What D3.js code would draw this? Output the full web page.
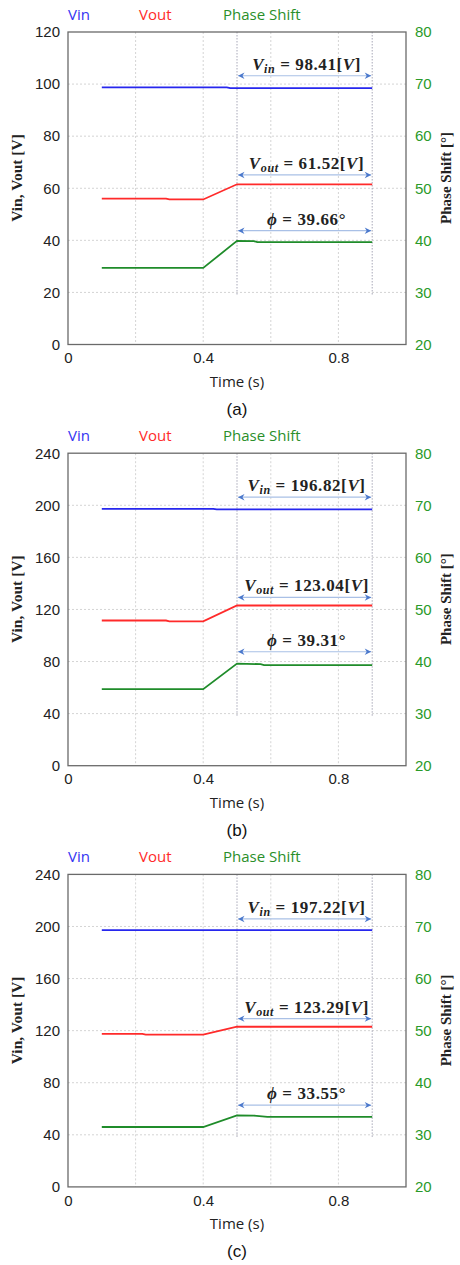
<!DOCTYPE html>
<html>
<head>
<meta charset="utf-8">
<script src="https://cdn.jsdelivr.net/npm/d3@7"></script>
<style>
  body { margin: 0; background: #fff; }
</style>
</head>
<body>
<div id="chart"></div>
<script>
// chart data
var legendNames = ["Vin", "Vout", "Phase Shift"];
var panelTags = ["(a)", "(b)", "(c)"];
var leftMax = [120, 240, 240];
var leftStep = [20, 40, 40];
var rightTicks = [20, 30, 40, 50, 60, 70, 80];
var timeTicks = [0, 0.4, 0.8];
var timeGrid = [0.2, 0.4, 0.6, 0.8];
var markTimes = [0.5, 0.9];

// [time, value] pairs
var vinA = [[0.1, 98.7], [0.47, 98.7], [0.48, 98.41], [0.9, 98.41]];
var vinB = [[0.1, 197.3], [0.43, 197.3], [0.44, 196.82], [0.9, 196.82]];
var vinC = [[0.1, 197.22], [0.9, 197.22]];

var voutA = [[0.1, 56.0], [0.29, 56.0], [0.3, 55.7], [0.4, 55.7], [0.5, 61.52], [0.9, 61.52]];
var voutB = [[0.1, 111.5], [0.29, 111.5], [0.3, 110.9], [0.4, 110.9], [0.5, 123.04], [0.9, 123.04]];
var voutC = [[0.1, 117.6], [0.22, 117.6], [0.23, 116.9], [0.4, 116.9], [0.5, 123.0], [0.9, 123.0]];

var phaseA = [[0.1, 34.7], [0.4, 34.7], [0.5, 39.9], [0.55, 39.85], [0.56, 39.66], [0.9, 39.66]];
var phaseB = [[0.1, 34.7], [0.4, 34.7], [0.5, 39.6], [0.57, 39.5], [0.58, 39.31], [0.9, 39.31]];
var phaseC = [[0.1, 31.5], [0.4, 31.5], [0.5, 33.75], [0.55, 33.7], [0.59, 33.45], [0.9, 33.45]];

var vinLabels = ["98.41", "196.82", "197.22"];
var voutLabels = ["61.52", "123.04", "123.29"];
var phaseLabels = ["39.66", "39.31", "33.55"];

// heights of the measurement arrows, in left-axis units
var vinArrow = [103.2, 206.2, 205.8];
var voutArrow = [65.1, 129.2, 129.2];
var phaseArrow = [43.7, 87.5, 62.8];

var vinSeries = [vinA, vinB, vinC];
var voutSeries = [voutA, voutB, voutC];
var phaseSeries = [phaseA, phaseB, phaseC];

// svg container
var svgWidth = 460;
var svgHeight = 1265;
var plotLeft = 68;
var plotWidth = 338;
var plotHeight = 312.5;
var panelGap = 421.2;

var colors = { vin: "#2727ee", vout: "#ff2a2a", phase: "#1f8c2a" };
var legendColors = ["#3434f2", "#ff2a2a", "#2a8f2a"];

var svg = d3.select("#chart")
  .append("svg")
  .attr("width", svgWidth)
  .attr("height", svgHeight);

// arrow heads
var defs = svg.append("defs");
defs.append("marker")
  .attr("id", "chev")
  .attr("viewBox", "0 0 8 8")
  .attr("refX", 7.5)
  .attr("refY", 4)
  .attr("markerWidth", 8)
  .attr("markerHeight", 8)
  .attr("markerUnits", "userSpaceOnUse")
  .attr("orient", "auto-start-reverse")
  .append("path")
  .attr("d", "M1,0.8 L7.5,4 L1,7.2 L3,4 Z")
  .attr("fill", "#4a78cc");

panelTags.forEach(function(tag, i) {
  var top = 32 + i * panelGap;
  var g = svg.append("g").attr("transform", `translate(${plotLeft}, ${top})`);

  var x = d3.scaleLinear().domain([0, 1]).range([0, plotWidth]);
  var yL = d3.scaleLinear().domain([0, leftMax[i]]).range([plotHeight, 0]);
  var yR = d3.scaleLinear().domain([20, 80]).range([plotHeight, 0]);
  var leftTicks = d3.range(0, leftMax[i] + 1, leftStep[i]);

  // grid
  g.selectAll(".hgrid")
    .data(leftTicks.slice(1, -1))
    .enter().append("line")
    .attr("x1", 0).attr("x2", plotWidth)
    .attr("y1", d => yL(d)).attr("y2", d => yL(d))
    .attr("stroke", "#d4d4d4")
    .attr("stroke-dasharray", "2,2");

  g.selectAll(".vgrid")
    .data(timeGrid)
    .enter().append("line")
    .attr("x1", d => x(d)).attr("x2", d => x(d))
    .attr("y1", 0).attr("y2", plotHeight)
    .attr("stroke", "#d4d4d4")
    .attr("stroke-dasharray", "2,2");

  // reference lines for the measurement window
  g.selectAll(".mark")
    .data(markTimes)
    .enter().append("line")
    .attr("x1", d => x(d)).attr("x2", d => x(d))
    .attr("y1", 0).attr("y2", yL(leftTicks[1]) + 3)
    .attr("stroke", "#a8a8b8")
    .attr("stroke-dasharray", "1.5,1.5");

  // axes
  var leftAxis = d3.axisLeft(yL).tickValues(leftTicks).tickSize(0).tickPadding(8);
  var rightAxis = d3.axisRight(yR).tickValues(rightTicks).tickSize(0).tickPadding(9);
  var bottomAxis = d3.axisBottom(x).tickValues(timeTicks).tickSize(0).tickPadding(8)
    .tickFormat(d => d === 0 ? "0" : d3.format(".1f")(d));

  var la = g.append("g").call(leftAxis);
  var ra = g.append("g").attr("transform", `translate(${plotWidth}, 0)`).call(rightAxis);
  var ba = g.append("g").attr("transform", `translate(0, ${plotHeight})`).call(bottomAxis);
  [la, ra, ba].forEach(function(a) {
    a.select(".domain").remove();
    a.selectAll("text")
      .style("font-family", "'Liberation Sans', Arial, sans-serif")
      .style("font-size", "15px");
  });
  la.selectAll("text").attr("fill", "#222");
  ba.selectAll("text").attr("fill", "#222");
  ra.selectAll("text").attr("fill", "#2a9a2a");

  // frame
  g.append("rect")
    .attr("width", plotWidth).attr("height", plotHeight)
    .attr("fill", "none")
    .attr("stroke", "#6a6a6a")
    .attr("stroke-width", 1.3);

  // series
  var lineL = d3.line().x(d => x(d[0])).y(d => yL(d[1]));
  var lineR = d3.line().x(d => x(d[0])).y(d => yR(d[1]));

  g.append("path").datum(vinSeries[i]).attr("d", lineL)
    .attr("fill", "none").attr("stroke", colors.vin).attr("stroke-width", 1.8);
  g.append("path").datum(voutSeries[i]).attr("d", lineL)
    .attr("fill", "none").attr("stroke", colors.vout).attr("stroke-width", 1.8);
  g.append("path").datum(phaseSeries[i]).attr("d", lineR)
    .attr("fill", "none").attr("stroke", colors.phase).attr("stroke-width", 1.8);

  // measurement arrows + labels
  var arrows = [
    { y: vinArrow[i], kind: "V", sub: "in", label: vinLabels[i] },
    { y: voutArrow[i], kind: "V", sub: "out", label: voutLabels[i] },
    { y: phaseArrow[i], kind: "phi", label: phaseLabels[i] }
  ];
  arrows.forEach(function(a) {
    g.append("line")
      .attr("x1", x(markTimes[0]) + 1).attr("x2", x(markTimes[1]) - 1)
      .attr("y1", yL(a.y)).attr("y2", yL(a.y))
      .attr("stroke", "#a9c0e6")
      .attr("stroke-width", 1.2)
      .attr("marker-start", "url(#chev)")
      .attr("marker-end", "url(#chev)");

    var t = g.append("text")
      .attr("x", x((markTimes[0] + markTimes[1]) / 2) + 2)
      .attr("y", yL(a.y) - 6)
      .attr("text-anchor", "middle")
      .style("font-family", "'Liberation Serif', 'Times New Roman', serif")
      .style("font-weight", "bold")
      .style("font-size", "17px")
      .style("letter-spacing", "0.6px")
      .attr("fill", "#222");
    if (a.kind === "V") {
      t.append("tspan").style("font-style", "italic").text("V");
      t.append("tspan").style("font-style", "italic").style("font-size", "12px")
        .attr("dy", 3).text(a.sub);
      t.append("tspan").attr("dy", -3).text(" = " + a.label + "[");
      t.append("tspan").style("font-style", "italic").text("V");
      t.append("tspan").text("]");
    } else {
      t.append("tspan").style("font-style", "italic").text("\u03D5");
      t.append("tspan").text(" = " + a.label + "\u00B0");
    }
  });

  // legend
  var legendX = [0, 71, 155];
  g.selectAll(".legend")
    .data(legendNames)
    .enter().append("text")
    .attr("x", (d, k) => legendX[k])
    .attr("y", -12)
    .style("font-family", "'Open Sans', sans-serif")
    .style("font-size", "15px")
    .attr("fill", (d, k) => legendColors[k])
    .text(d => d);

  // axis titles
  g.append("text")
    .attr("transform", `translate(${22 - plotLeft}, ${146}) rotate(-90)`)
    .attr("text-anchor", "middle")
    .style("font-family", "'Liberation Serif', 'Times New Roman', serif")
    .style("font-weight", "bold")
    .style("font-size", "15.5px")
    .attr("fill", "#222")
    .text("Vin, Vout [V]");

  g.append("text")
    .attr("transform", `translate(${451 - plotLeft}, ${146}) rotate(-90)`)
    .attr("text-anchor", "middle")
    .style("font-family", "'Liberation Serif', 'Times New Roman', serif")
    .style("font-weight", "bold")
    .style("font-size", "15px")
    .attr("fill", "#222")
    .text("Phase Shift [\u00B0]");

  g.append("text")
    .attr("x", plotWidth * 0.5)
    .attr("y", plotHeight + 42)
    .attr("text-anchor", "middle")
    .style("font-family", "'Open Sans', sans-serif")
    .style("font-size", "15px")
    .attr("fill", "#222")
    .text("Time (s)");

  g.append("text")
    .attr("x", plotWidth * 0.5)
    .attr("y", plotHeight + 70)
    .attr("text-anchor", "middle")
    .style("font-family", "'Liberation Sans', Arial, sans-serif")
    .style("font-size", "17px")
    .attr("fill", "#111")
    .text(tag);
});
</script>
</body>
</html>
